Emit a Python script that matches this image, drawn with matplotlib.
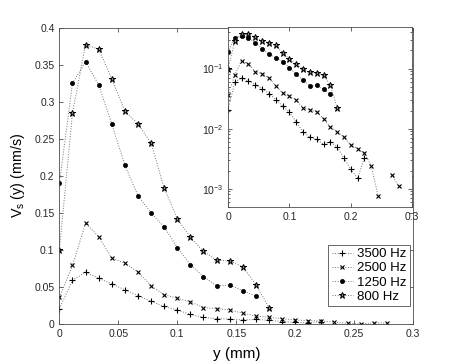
import numpy as np
import matplotlib
matplotlib.use('Agg')
import matplotlib.pyplot as plt

plt.rcParams['font.family'] = ['Liberation Sans', 'DejaVu Sans']

# y 位置 (mm)
y_mm = [0, 0.0111, 0.0222, 0.0333, 0.0444, 0.0556, 0.0667, 0.0778, 0.0889, 0.1,
        0.1111, 0.1222, 0.1333, 0.1444, 0.1556, 0.1667, 0.1778, 0.1889, 0.2, 0.2111,
        0.2222, 0.2333, 0.2444, 0.2556, 0.2667, 0.2778]

# Vs(y) (mm/s) for each frequency
v3500 = [0.0208, 0.059, 0.070, 0.0616, 0.0542, 0.046, 0.0384, 0.0305, 0.0237, 0.0188,
         0.0128, 0.0089, 0.0072, 0.0066, 0.0055, 0.0061, 0.0049, 0.0032, 0.0021, 0.0015,
         0.0033]
v2500 = [0.036, 0.079, 0.136, 0.118, 0.089, 0.082, 0.070, 0.0515, 0.0394, 0.0347,
         0.0298, 0.0222, 0.0208, 0.0188, 0.0146, 0.0107, 0.0089, 0.0072, 0.0053, 0.0046,
         0.0039, 0.0024, 0.00076, 0, 0.0017, 0.0011]
v1250 = [0.190, 0.325, 0.354, 0.323, 0.270, 0.214, 0.173, 0.150, 0.131, 0.103,
         0.080, 0.064, 0.0515, 0.0525, 0.045, 0.0375]
v800 = [0.100, 0.285, 0.377, 0.371, 0.331, 0.287, 0.270, 0.244, 0.183, 0.142,
        0.117, 0.098, 0.086, 0.085, 0.077, 0.053, 0.022]

labels = ['3500 Hz', '2500 Hz', '1250 Hz', '800 Hz']
series = [v3500, v2500, v1250, v800]
markers = [dict(marker='+', ms=4, mew=0.8),
           dict(marker='x', ms=3.2, mew=0.8),
           dict(marker='o', ms=3, mew=0.5),
           dict(marker='*', ms=4.8, mew=0.7, mfc='0.55')]

line_kw = dict(ls=':', lw=0.7, color='0.45', mec='k')

fig = plt.figure(figsize=(4.57, 3.64), dpi=100)
ax = fig.add_axes([0.13, 0.11, 0.774, 0.814])

for v, lab, mk in zip(series, labels, markers):
    kw = dict(mk)
    kw.setdefault('mfc', 'k')
    ax.plot(y_mm[:len(v)], v, label=lab, **line_kw, **kw)

ax.set_xlim(0, 0.3)
ax.set_ylim(0, 0.4)
xt = [0, 0.05, 0.1, 0.15, 0.2, 0.25, 0.3]
yt = [0, 0.05, 0.1, 0.15, 0.2, 0.25, 0.3, 0.35, 0.4]
ax.set_xticks(xt)
ax.set_xticklabels(['%g' % t for t in xt])
ax.set_yticks(yt)
ax.set_yticklabels(['%g' % t for t in yt])
ax.tick_params(direction='in', top=True, right=True, labelsize=7.5, length=3, width=0.5, colors='0.15')
for s in ax.spines.values():
    s.set_linewidth(0.6)
    s.set_color('0.3')
ax.set_xlabel('y (mm)', fontsize=11, labelpad=6)
ax.set_ylabel(r'V$_\mathregular{s}$ (y) (mm/s)', fontsize=10.3, labelpad=5)

leg = ax.legend(loc='lower right', bbox_to_anchor=(0.99, 0.06), borderaxespad=0,
                fontsize=9.5, handlelength=1.6, handletextpad=0.3, labelspacing=0.15,
                borderpad=0.25, fancybox=False, framealpha=1)
leg.get_frame().set_edgecolor('0.3')
leg.get_frame().set_linewidth(0.6)

# inset, log scale
ins = fig.add_axes([0.499, 0.432, 0.403, 0.495])
for v, mk in zip(series, markers):
    kw = dict(mk)
    kw.setdefault('mfc', 'k')
    vv = np.array(v, dtype=float)
    vv[vv <= 0] = np.nan
    ins.plot(y_mm[:len(v)], vv, **line_kw, **kw)
ins.set_yscale('log')
ins.set_xlim(0, 0.3)
ins.set_ylim(5e-4, 0.5)
ins.set_xticks([0, 0.1, 0.2, 0.3])
ins.set_xticklabels(['0', '0.1', '0.2', '0.3'])
ins.set_yticks([1e-3, 1e-2, 1e-1])
ins.tick_params(direction='in', which='both', top=True, right=True, labelsize=7.5,
                width=0.5, colors='0.15')
ins.tick_params(which='major', length=3)
ins.tick_params(which='minor', length=1.5)
for s in ins.spines.values():
    s.set_linewidth(0.6)
    s.set_color('0.3')

fig.savefig('out.png', dpi=100)
